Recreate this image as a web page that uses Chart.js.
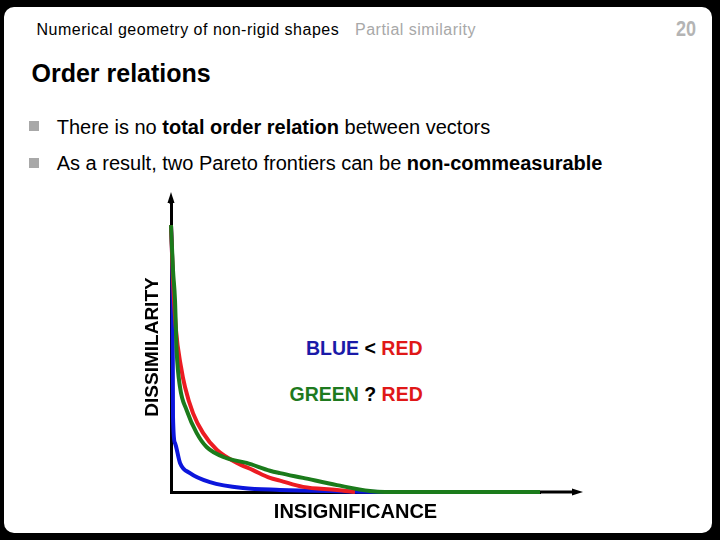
<!DOCTYPE html>
<html>
<head>
<meta charset="utf-8">
<script src="https://cdn.jsdelivr.net/npm/chart.js@4.4.0/dist/chart.umd.min.js"></script>
<style>
  html, body { margin: 0; padding: 0; background: #000; }
  body { width: 720px; height: 540px; position: relative; overflow: hidden;
         font-family: "Liberation Sans", Arial, Helvetica, sans-serif; }
  #slide { position: absolute; left: 4px; top: 7px; width: 708px; height: 526px;
           background: #fff; border-radius: 10px; }
  .txt { position: absolute; white-space: nowrap; line-height: 1; }
  .head { font-size: 16px; letter-spacing: 0.5px; top: 21.5px; }
  .bullet { font-size: 20px; left: 56.7px; color: #000; }
  .sq { position: absolute; left: 29px; width: 10px; height: 10px; background: #a8a8a8; }
  .lbl { font-size: 19.5px; font-weight: bold; }
  #chart { position: absolute; left: 0; top: 0; }
</style>
</head>
<body>
<div id="slide"></div>

<div class="txt head" style="left:36.5px;color:#000">Numerical geometry of non-rigid shapes</div>
<div class="txt head" style="left:355px;color:#a8a8a8">Partial similarity</div>
<div class="txt" style="left:676px;top:18px;font-size:22px;font-weight:bold;color:#b4b4b4;transform:scaleX(0.82);transform-origin:left top">20</div>

<div class="txt" style="left:31.5px;top:60.5px;font-size:25px;font-weight:bold">Order relations</div>

<div class="sq" style="top:121px"></div>
<div class="txt bullet" style="top:116.8px">There is no <b>total order relation</b> between vectors</div>
<div class="sq" style="top:157.5px"></div>
<div class="txt bullet" style="top:153px">As a result, two Pareto frontiers can be <b>non-commeasurable</b></div>

<div class="txt lbl" style="left:306px;top:338.5px"><span style="color:#1a1aa8">BLUE</span> &lt; <span style="color:#e01818">RED</span></div>
<div class="txt lbl" style="left:289.5px;top:385.2px"><span style="color:#1e7a1e">GREEN</span> ? <span style="color:#e01818">RED</span></div>

<canvas id="chart" width="720" height="540"></canvas>

<script>
// insignificance (x) / dissimilarity (y) for each frontier
var greenX = [0, 0.5, 1, 1.4, 2.25, 3.9, 6.4, 8.9, 13.9, 18.9, 24.75, 27.25, 33, 41.5, 49.75, 53.5, 92.25];
var greenY = [89, 74, 64, 47.3, 35, 27.3, 19.7, 15, 11.3, 9.7, 7.1, 6.3, 4.7, 2.3, 0.3, 0, 0];

var redX = [0, 0.5, 1.25, 2.5, 3.5, 5.5, 8, 11.5, 16.5, 20.5, 24.75, 27.25, 33, 41.5, 46];
var redY = [89, 70.7, 54, 41.7, 35, 26.3, 19.7, 14, 9.7, 7.3, 4.7, 3.8, 1.7, 0.7, 0];

var blueX = [0, 0.4, 0.5, 1, 2.25, 4.75, 9.75, 18, 27.25, 39.75, 57.25, 92.25];
var blueY = [89, 64, 25, 16.3, 9.7, 6.3, 3.3, 1.3, 0.7, 0.3, 0, 0];

function toPoints(xs, ys) {
  return xs.map(function (x, i) { return { x: x, y: ys[i] }; });
}

var FONT = "'Liberation Sans', Arial, Helvetica, sans-serif";

// arrow heads at the ends of both axes
var axisArrows = {
  id: "axisArrows",
  beforeDatasetsDraw: function (chart) {
    var ctx = chart.ctx;
    var a = chart.chartArea;
    var x0 = chart.scales.x.getPixelForValue(0);
    var y0 = chart.scales.y.getPixelForValue(0);
    ctx.save();
    ctx.strokeStyle = "#000";
    ctx.fillStyle = "#000";
    ctx.lineWidth = 3;
    ctx.beginPath();
    ctx.moveTo(a.right - 2, y0);
    ctx.lineTo(a.right + 34, y0);
    ctx.moveTo(x0, a.top + 2);
    ctx.lineTo(x0, a.top - 1);
    ctx.stroke();
    ctx.beginPath();
    ctx.moveTo(a.right + 43, y0);
    ctx.lineTo(a.right + 32, y0 - 3.5);
    ctx.lineTo(a.right + 32, y0 + 3.5);
    ctx.closePath();
    ctx.fill();
    ctx.beginPath();
    ctx.moveTo(x0, a.top - 10);
    ctx.lineTo(x0 - 3.5, a.top + 1);
    ctx.lineTo(x0 + 3.5, a.top + 1);
    ctx.closePath();
    ctx.fill();
    ctx.restore();
  }
};

var ctx = document.getElementById("chart").getContext("2d");
var paretoChart = new Chart(ctx, {
  type: "line",
  data: {
    datasets: [
      {
        label: "green",
        data: toPoints(greenX, greenY),
        borderColor: "#1b7b1b",
        order: 0,
      },
      {
        label: "red",
        data: toPoints(redX, redY),
        borderColor: "#ec1c22",
        order: 1,
      },
      {
        label: "blue",
        data: toPoints(blueX, blueY),
        borderColor: "#0c16dc",
        order: 2,
      },
    ],
  },
  options: {
    responsive: false,
    animation: false,
    events: [],
    layout: { padding: { left: 134.2, right: 180, top: 202, bottom: 11.5 } },
    elements: {
      point: { radius: 0 },
      line: { borderWidth: 4, fill: false, cubicInterpolationMode: "monotone", capBezierPoints: true },
    },
    datasets: { line: { clip: false } },
    plugins: { legend: { display: false }, tooltip: { enabled: false } },
    scales: {
      x: {
        type: "linear",
        min: 0,
        max: 92.25,
        grid: { display: false, drawTicks: false },
        border: { display: true, color: "#000", width: 3 },
        ticks: { display: false },
        title: {
          display: true,
          text: "INSIGNIFICANCE",
          color: "#000",
          font: { family: FONT, size: 20, weight: "bold" },
          padding: { top: 8.5, bottom: 4 },
        },
      },
      y: {
        type: "linear",
        min: 0,
        max: 96.7,
        grid: { display: false, drawTicks: false },
        border: { display: true, color: "#000", width: 3 },
        ticks: { display: false },
        title: {
          display: true,
          text: "DISSIMILARITY",
          color: "#000",
          font: { family: FONT, size: 19, weight: "bold" },
          padding: { top: 7, bottom: 7 },
        },
      },
    },
  },
  plugins: [axisArrows],
});
</script>
</body>
</html>
